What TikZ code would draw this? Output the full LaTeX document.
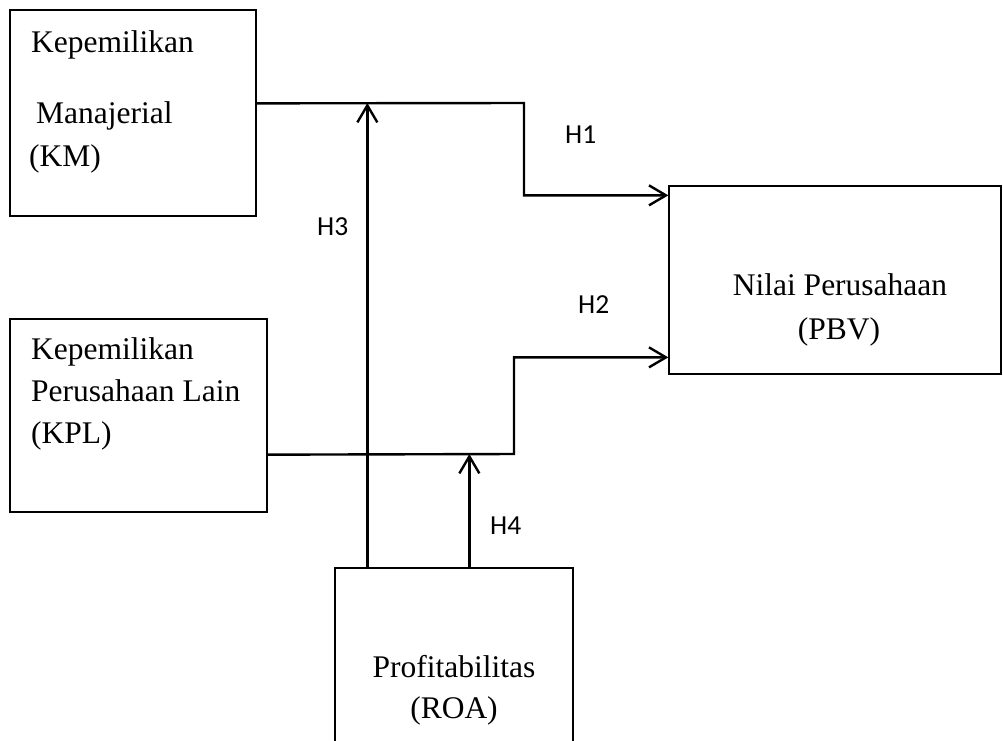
\documentclass[tikz,border=0pt]{standalone}
\usepackage{fontspec}
\setmainfont{Liberation Serif}
\newfontfamily\hfont{Carlito}
\usetikzlibrary{arrows.meta,calc}
\begin{document}
\begin{tikzpicture}[x=1pt,y=-1pt,
  box/.style={draw=black,line width=1.3pt,rectangle,inner sep=0pt},
  txt/.style={inner sep=0pt,font=\fontsize{31.5}{38}\selectfont},
  hlab/.style={inner sep=0pt,anchor=base west,font=\hfont\fontsize{27.5}{32}\selectfont},
  arr/.style={line width=2.4pt,-{Straight Barb[length=17pt,width=20pt,line width=2.4pt]}},
  conn/.style={line width=2.4pt}]
\useasboundingbox (0,0) rectangle (1003,740);
\clip (0,0) rectangle (1003,740);
% boxes
\node[box,minimum width=246pt,minimum height=206pt] (km) at (133,113) {};
\node[box,minimum width=257pt,minimum height=193pt] (kpl) at (138.5,415.5) {};
\node[box,minimum width=332pt,minimum height=188pt] (pbv) at (1001-166,280) {};
\node[box,minimum width=238pt,minimum height=200pt] (roa) at (454,668) {};
% texts
\node[txt,anchor=base west] (t1) at (31,52) {Kepemilikan};
\node[txt,anchor=base west] (t2) at (36,123) {Manajerial};
\node[txt,anchor=base west] (t3) at (29,166) {(KM)};
\node[txt,anchor=base west] (t4) at (31,359) {Kepemilikan};
\node[txt,anchor=base west] (t5) at (31,401) {Perusahaan Lain};
\node[txt,anchor=base west] (t6) at (31,443) {(KPL)};
\node[txt,anchor=base] (t7) at (840,295) {Nilai Perusahaan};
\node[txt,anchor=base] (t8) at (839,339) {(PBV)};
\node[txt,anchor=base] (t9) at (454,677) {Profitabilitas};
\node[txt,anchor=base] (t10) at (454,718) {(ROA)};
% hypothesis labels
\node[hlab] (h1) at (565,143) {H1};
\node[hlab] (h2) at (578,313) {H2};
\node[hlab] (h3) at (317,235) {H3};
\node[hlab] (h4) at (490,534) {H4};
% connectors
\coordinate (c1) at (524,103);
\coordinate (c2) at (514,454);
\draw[arr] ([yshift=-94pt]km.north east) -- (c1) |- ([yshift=-10pt]pbv.north west);
\draw[arr] ([yshift=58pt]kpl.south east) -- (c2) |- ([yshift=-172pt]pbv.north west);
\draw[arr] ([xshift=33pt]roa.north west) -- ([xshift=33pt]roa.north west |- c1);
\draw[arr] ([xshift=135pt]roa.north west) -- ([xshift=135pt]roa.north west |- c2);
\end{tikzpicture}
\end{document}
